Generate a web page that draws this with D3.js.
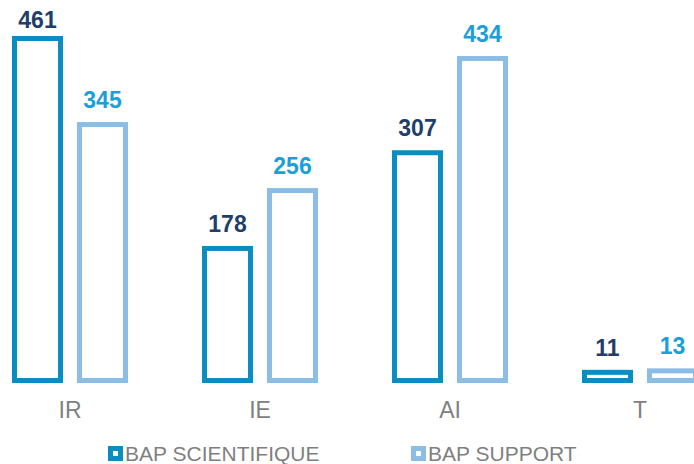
<!DOCTYPE html>
<html>
<head>
<meta charset="utf-8">
<script src="https://cdn.jsdelivr.net/npm/d3@7"></script>
<style>
    body { margin: 0; background: #fff; }
    svg { display: block; font-family: "Liberation Sans", Arial, sans-serif; }
</style>
</head>
<body>
<div id="chart"></div>
<script>
    var categories = ['IR', 'IE', 'AI', 'T'];
    var seriesNames = ['BAP SCIENTIFIQUE', 'BAP SUPPORT'];
    var scientifique = [461, 178, 307, 11];
    var support = [345, 256, 434, 13];

    var strokeColors = ['#0a8ec2', '#8bbde5'];
    var labelColors = ['#1f3e6a', '#1a9fdb'];

    var width = 694, height = 464;

    var svg = d3.select('#chart').append('svg')
        .attr('width', width)
        .attr('height', height)
    ;

    // one band per category, groups are 190px apart
    var x0 = d3.scaleBand().domain(categories).range([-25, 735]);
    var x1 = d3.scaleBand().domain(seriesNames)
        .range([39.5, 150.5])
        .paddingInner(0.2923)
    ;
    var y = d3.scaleLinear().domain([0, 461]).range([380.5, 38.5]);

    var rows = categories.map(function (c, i) {
        return {cat: c, values: [scientifique[i], support[i]]};
    });

    var groups = svg.selectAll('.group')
        .data(rows)
        .enter()
        .append('g')
        .attr('class', 'group')
        .attr('transform', function (d) { return 'translate(' + x0(d.cat) + ',0)'; })
    ;

    var cells = groups.selectAll('.cell')
        .data(function (d) {
            return d.values.map(function (v, j) { return {s: seriesNames[j], j: j, v: v}; });
        })
        .enter()
        .append('g')
        .attr('class', 'cell')
    ;

    cells.append('rect')
        .attr('x', function (d) { return x1(d.s); })
        .attr('y', function (d) { return y(d.v); })
        .attr('width', x1.bandwidth())
        .attr('height', function (d) { return y(0) - y(d.v); })
        .attr('fill', '#fff')
        .attr('stroke', function (d) { return strokeColors[d.j]; })
        .attr('stroke-width', 5)
    ;

    // value labels; the tallest one is held inside the top edge
    cells.append('text')
        .attr('x', function (d) { return x1(d.s) + x1.bandwidth() / 2; })
        .attr('y', function (d) { return Math.max(y(d.v) - 16.5, 28); })
        .attr('text-anchor', 'middle')
        .attr('font-size', 23)
        .attr('font-weight', 'bold')
        .attr('fill', function (d) { return labelColors[d.j]; })
        .text(function (d) { return d.v; })
    ;

    // category labels
    svg.selectAll('.cat')
        .data(categories)
        .enter()
        .append('text')
        .attr('class', 'cat')
        .attr('x', function (d) { return x0(d) + x0.bandwidth() / 2; })
        .attr('y', 418)
        .attr('text-anchor', 'middle')
        .attr('font-size', 23)
        .attr('fill', '#808080')
        .text(function (d) { return d; })
    ;

    // legend
    var legendX = [108, 411];
    var legend = svg.selectAll('.legend')
        .data(seriesNames)
        .enter()
        .append('g')
        .attr('class', 'legend')
        .attr('transform', function (d, i) { return 'translate(' + legendX[i] + ',446)'; })
    ;

    legend.append('rect')
        .attr('width', 15)
        .attr('height', 15)
        .attr('fill', function (d, i) { return strokeColors[i]; })
    ;
    legend.append('rect')
        .attr('x', 5)
        .attr('y', 5)
        .attr('width', 5)
        .attr('height', 5)
        .attr('fill', '#fff')
    ;
    legend.append('text')
        .attr('x', 17)
        .attr('y', 15)
        .attr('font-size', 21)
        .attr('fill', '#7f7f7f')
        .text(function (d) { return d; })
    ;
</script>
</body>
</html>
